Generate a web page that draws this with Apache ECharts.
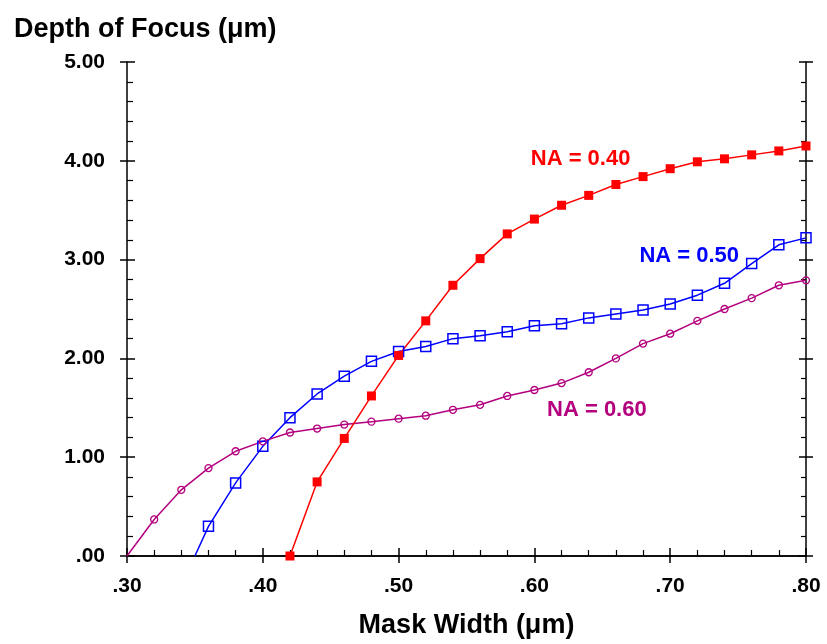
<!DOCTYPE html>
<html>
<head>
<meta charset="utf-8">
<script src="https://cdn.jsdelivr.net/npm/echarts@6/dist/echarts.min.js"></script>
<style>html,body{margin:0;padding:0;background:#fff}#c{width:827px;height:644px}</style>
</head>
<body>
<div id="c"></div>
<script>
// ---- data ----
const xTitle = 'Mask Width (\u03bcm)';
const yTitle = 'Depth of Focus (\u03bcm)';
const seriesNames = ['NA = 0.40', 'NA = 0.50', 'NA = 0.60'];

const na40Width = [0.42,0.44,0.46,0.48,0.50,0.52,0.54,0.56,0.58,0.60,0.62,0.64,0.66,0.68,0.70,0.72,0.74,0.76,0.78,0.80];
const na40Dof   = [0.00,0.75,1.19,1.62,2.03,2.38,2.74,3.01,3.26,3.41,3.55,3.65,3.76,3.84,3.92,3.99,4.02,4.06,4.10,4.15];

const na50Start = [0.35, 0.00];   // line reaches the axis here, no marker
const na50Width = [0.36,0.38,0.40,0.42,0.44,0.46,0.48,0.50,0.52,0.54,0.56,0.58,0.60,0.62,0.64,0.66,0.68,0.70,0.72,0.74,0.76,0.78,0.80];
const na50Dof   = [0.30,0.74,1.11,1.40,1.64,1.82,1.97,2.07,2.12,2.20,2.23,2.27,2.33,2.35,2.41,2.45,2.49,2.55,2.64,2.76,2.96,3.15,3.22];

const na60Start = [0.30, 0.00];   // line reaches the axis here, no marker
const na60Width = [0.32,0.34,0.36,0.38,0.40,0.42,0.44,0.46,0.48,0.50,0.52,0.54,0.56,0.58,0.60,0.62,0.64,0.66,0.68,0.70,0.72,0.74,0.76,0.78,0.80];
const na60Dof   = [0.37,0.67,0.89,1.06,1.16,1.25,1.29,1.33,1.36,1.39,1.42,1.48,1.53,1.62,1.68,1.75,1.86,2.00,2.15,2.25,2.38,2.50,2.61,2.74,2.79];

// label anchor points (data coordinates)
const na40LabelAt = [0.634, 4.02];
const na50LabelAt = [0.714, 3.04];
const na60LabelAt = [0.646, 1.48];

const xMin = 0.30, xMax = 0.80, xStep = 0.10;
const yMin = 0, yMax = 5, yStep = 1;

// ---- build ----
const RED = '#ff0000', BLUE = '#0000ff', MAG = '#b4007e';
const FONT = '"Liberation Sans", Arial, sans-serif';

function zip(xs, ys) { return xs.map((x, i) => [x, ys[i]]); }

const xFmt = v => v.toFixed(2).replace(/^0/, '');
const yFmt = v => (Math.abs(v) < 1e-9 ? '.00' : v.toFixed(2));

const axisLine = { show: true, lineStyle: { color: '#000', width: 1.5 } };
const hidden = { show: false };

function xAx(extra) {
  return Object.assign({ type: 'value', min: xMin, max: xMax, interval: xStep, splitLine: hidden, axisLabel: hidden, axisTick: hidden, axisLine: hidden }, extra);
}
function yAx(extra) {
  return Object.assign({ type: 'value', min: yMin, max: yMax, interval: yStep, splitLine: hidden, axisLabel: hidden, axisTick: hidden, axisLine: hidden }, extra);
}

function labelPoint(coord, name, color) {
  return {
    symbol: 'circle', symbolSize: 0, silent: true,
    label: { show: true, position: 'inside', formatter: name, color: color, fontFamily: FONT, fontWeight: 'bold', fontSize: 22 },
    data: [{ coord: coord }]
  };
}

const chart = echarts.init(document.getElementById('c'), null, { renderer: 'canvas' });
chart.setOption({
  animation: false,
  backgroundColor: '#fff',
  title: {
    text: yTitle, left: 9, top: 11,
    textStyle: { fontFamily: FONT, fontWeight: 'bold', fontSize: 27, color: '#000' }
  },
  grid: { left: 127, right: 21, top: 62, bottom: 87, containLabel: false },
  xAxis: [
    xAx({
      position: 'bottom', axisLine: axisLine,
      axisTick: { show: true, inside: true, length: 8, lineStyle: { color: '#000', width: 1.5 } },
      minorTick: { show: true, splitNumber: 5, length: 6, lineStyle: { color: '#000', width: 1.2 } },
      axisLabel: { show: true, formatter: xFmt, margin: 20, color: '#000', fontFamily: FONT, fontWeight: 'bold', fontSize: 21 },
      name: xTitle, nameLocation: 'middle', nameGap: 56,
      nameTextStyle: { fontFamily: FONT, fontWeight: 'bold', fontSize: 27, color: '#000' }
    }),
    xAx({
      position: 'bottom',
      axisTick: { show: true, inside: false, length: 7, lineStyle: { color: '#000', width: 1.5 } }
    }),
    xAx({ position: 'top', axisLine: axisLine })
  ],
  yAxis: [
    yAx({
      position: 'left', axisLine: axisLine,
      axisTick: { show: true, inside: true, length: 8, lineStyle: { color: '#000', width: 1.5 } },
      minorTick: { show: true, splitNumber: 5, length: 6, lineStyle: { color: '#000', width: 1.2 } },
      axisLabel: { show: true, formatter: yFmt, margin: 22, color: '#000', fontFamily: FONT, fontWeight: 'bold', fontSize: 21 }
    }),
    yAx({
      position: 'left',
      axisTick: { show: true, inside: false, length: 7, lineStyle: { color: '#000', width: 1.5 } }
    }),
    yAx({
      position: 'right', axisLine: axisLine,
      axisTick: { show: true, inside: true, length: 7, lineStyle: { color: '#000', width: 1.5 } },
      minorTick: { show: true, splitNumber: 5, length: 5, lineStyle: { color: '#000', width: 1.2 } }
    }),
    yAx({
      position: 'right',
      axisTick: { show: true, inside: false, length: 7, lineStyle: { color: '#000', width: 1.5 } }
    })
  ],
  series: [
    {
      name: seriesNames[1], type: 'line', xAxisIndex: 0, yAxisIndex: 0,
      data: [{ value: na50Start, symbol: 'none' }].concat(zip(na50Width, na50Dof)),
      symbol: 'rect', symbolSize: 10, showAllSymbol: true,
      lineStyle: { color: BLUE, width: 1.5 },
      itemStyle: { color: 'rgba(255,255,255,0)', borderColor: BLUE, borderWidth: 1.5 },
      markPoint: labelPoint(na50LabelAt, seriesNames[1], BLUE)
    },
    {
      name: seriesNames[2], type: 'line', xAxisIndex: 0, yAxisIndex: 0,
      data: [{ value: na60Start, symbol: 'none' }].concat(zip(na60Width, na60Dof)),
      symbol: 'circle', symbolSize: 7, showAllSymbol: true,
      lineStyle: { color: MAG, width: 1.5 },
      itemStyle: { color: 'rgba(255,255,255,0)', borderColor: MAG, borderWidth: 1.3 },
      markPoint: labelPoint(na60LabelAt, seriesNames[2], MAG)
    },
    {
      name: seriesNames[0], type: 'line', xAxisIndex: 0, yAxisIndex: 0,
      data: zip(na40Width, na40Dof),
      symbol: 'rect', symbolSize: 9, showAllSymbol: true,
      lineStyle: { color: RED, width: 1.5 },
      itemStyle: { color: RED, borderWidth: 0 },
      markPoint: labelPoint(na40LabelAt, seriesNames[0], RED)
    }
  ]
});
</script>
</body>
</html>
